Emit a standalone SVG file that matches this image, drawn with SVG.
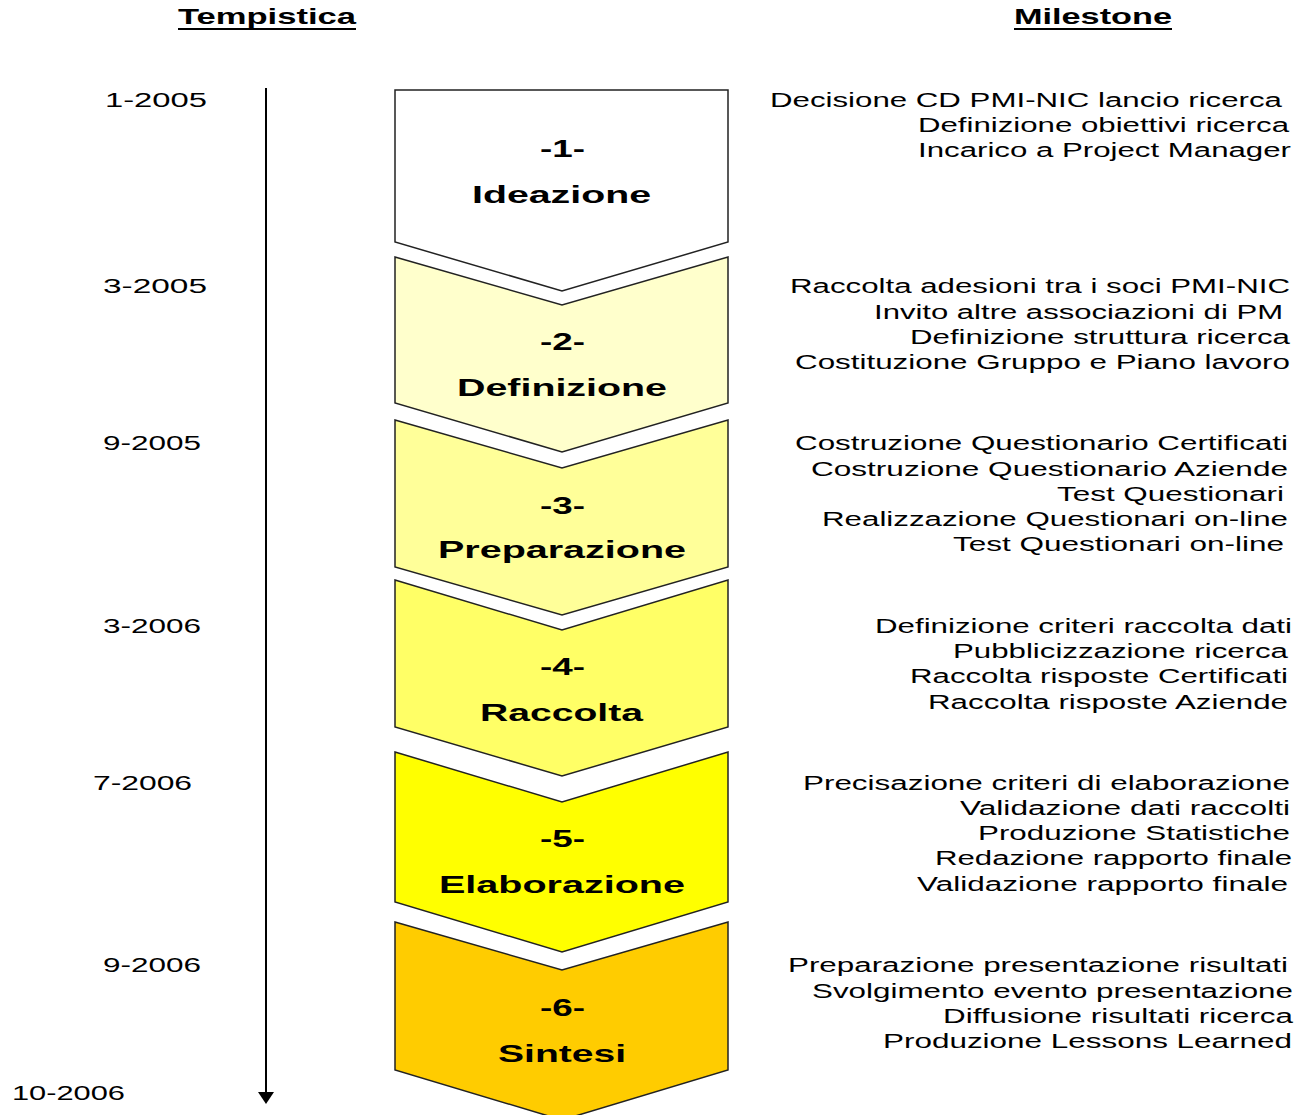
<svg xmlns="http://www.w3.org/2000/svg" width="1298" height="1115" viewBox="0 0 1298 1115">
<style>
.t{font-family:"Liberation Sans",Arial,sans-serif;font-size:20px;fill:#000}
.h{font-family:"Liberation Sans",Arial,sans-serif;font-size:22px;font-weight:bold;fill:#000}
.l{font-family:"Liberation Sans",Arial,sans-serif;font-size:24px;font-weight:bold;fill:#000}
.c{stroke:#222;stroke-width:1.5;stroke-linejoin:miter}
</style>
<rect width="1298" height="1115" fill="#fff"/>
<g id="headers">
<text class="h" x="178" y="24" textLength="178" lengthAdjust="spacingAndGlyphs">Tempistica</text>
<line x1="178" y1="29" x2="356" y2="29" stroke="#000" stroke-width="2"/>
<text class="h" x="1014" y="24" textLength="158" lengthAdjust="spacingAndGlyphs">Milestone</text>
<line x1="1014" y1="29" x2="1172" y2="29" stroke="#000" stroke-width="2"/>
</g>
<g id="connectors">
<line x1="266" y1="88" x2="266" y2="1094" stroke="#000" stroke-width="2"/>
<polygon points="258,1092 274,1092 266,1104" fill="#000"/>
</g>
<g id="dates">
<text class="t" x="105" y="107" textLength="102" lengthAdjust="spacingAndGlyphs">1-2005</text>
<text class="t" x="103" y="293" textLength="104" lengthAdjust="spacingAndGlyphs">3-2005</text>
<text class="t" x="103" y="450" textLength="98" lengthAdjust="spacingAndGlyphs">9-2005</text>
<text class="t" x="103" y="633" textLength="98" lengthAdjust="spacingAndGlyphs">3-2006</text>
<text class="t" x="93" y="790" textLength="99" lengthAdjust="spacingAndGlyphs">7-2006</text>
<text class="t" x="103" y="972" textLength="98" lengthAdjust="spacingAndGlyphs">9-2006</text>
<text class="t" x="12" y="1100" textLength="113" lengthAdjust="spacingAndGlyphs">10-2006</text>
</g>
<g id="phase1">
<polygon class="c" fill="#FFFFFF" points="395,90 728,90 728,242 562,291 395,242"/>
<text class="l" x="540" y="157" textLength="45" lengthAdjust="spacingAndGlyphs">-1-</text>
<text class="l" x="472" y="203" textLength="179" lengthAdjust="spacingAndGlyphs">Ideazione</text>
</g>
<g id="phase2">
<polygon class="c" fill="#FFFFCC" points="395,257 562,305 728,257 728,403 562,452 395,403"/>
<text class="l" x="540" y="350" textLength="45" lengthAdjust="spacingAndGlyphs">-2-</text>
<text class="l" x="457" y="396" textLength="210" lengthAdjust="spacingAndGlyphs">Definizione</text>
</g>
<g id="phase3">
<polygon class="c" fill="#FFFF99" points="395,420 562,468 728,420 728,567 562,615 395,567"/>
<text class="l" x="540" y="514" textLength="45" lengthAdjust="spacingAndGlyphs">-3-</text>
<text class="l" x="438" y="558" textLength="248" lengthAdjust="spacingAndGlyphs">Preparazione</text>
</g>
<g id="phase4">
<polygon class="c" fill="#FFFF66" points="395,580 562,630 728,580 728,727 562,776 395,727"/>
<text class="l" x="540" y="675" textLength="45" lengthAdjust="spacingAndGlyphs">-4-</text>
<text class="l" x="480" y="721" textLength="163" lengthAdjust="spacingAndGlyphs">Raccolta</text>
</g>
<g id="phase5">
<polygon class="c" fill="#FFFF00" points="395,752 562,802 728,752 728,902 562,952 395,902"/>
<text class="l" x="540" y="847" textLength="45" lengthAdjust="spacingAndGlyphs">-5-</text>
<text class="l" x="439" y="893" textLength="246" lengthAdjust="spacingAndGlyphs">Elaborazione</text>
</g>
<g id="phase6">
<polygon class="c" fill="#FFCC00" points="395,922 562,970 728,922 728,1070 562,1120 395,1070"/>
<text class="l" x="540" y="1016" textLength="45" lengthAdjust="spacingAndGlyphs">-6-</text>
<text class="l" x="498" y="1062" textLength="128" lengthAdjust="spacingAndGlyphs">Sintesi</text>
</g>
<g id="milestones1">
<text class="t" x="770" y="107" textLength="512" lengthAdjust="spacingAndGlyphs">Decisione CD PMI-NIC lancio ricerca</text>
<text class="t" x="918" y="132" textLength="371" lengthAdjust="spacingAndGlyphs">Definizione obiettivi ricerca</text>
<text class="t" x="918" y="157" textLength="373" lengthAdjust="spacingAndGlyphs">Incarico a Project Manager</text>
</g>
<g id="milestones2">
<text class="t" x="790" y="293" textLength="500" lengthAdjust="spacingAndGlyphs">Raccolta adesioni tra i soci PMI-NIC</text>
<text class="t" x="874" y="319" textLength="409" lengthAdjust="spacingAndGlyphs">Invito altre associazioni di PM</text>
<text class="t" x="910" y="344" textLength="380" lengthAdjust="spacingAndGlyphs">Definizione struttura ricerca</text>
<text class="t" x="795" y="369" textLength="495" lengthAdjust="spacingAndGlyphs">Costituzione Gruppo e Piano lavoro</text>
</g>
<g id="milestones3">
<text class="t" x="795" y="450" textLength="493" lengthAdjust="spacingAndGlyphs">Costruzione Questionario Certificati</text>
<text class="t" x="811" y="476" textLength="477" lengthAdjust="spacingAndGlyphs">Costruzione Questionario Aziende</text>
<text class="t" x="1057" y="501" textLength="227" lengthAdjust="spacingAndGlyphs">Test Questionari</text>
<text class="t" x="822" y="526" textLength="466" lengthAdjust="spacingAndGlyphs">Realizzazione Questionari on-line</text>
<text class="t" x="953" y="551" textLength="331" lengthAdjust="spacingAndGlyphs">Test Questionari on-line</text>
</g>
<g id="milestones4">
<text class="t" x="875" y="633" textLength="417" lengthAdjust="spacingAndGlyphs">Definizione criteri raccolta dati</text>
<text class="t" x="953" y="658" textLength="335" lengthAdjust="spacingAndGlyphs">Pubblicizzazione ricerca</text>
<text class="t" x="910" y="683" textLength="378" lengthAdjust="spacingAndGlyphs">Raccolta risposte Certificati</text>
<text class="t" x="928" y="709" textLength="360" lengthAdjust="spacingAndGlyphs">Raccolta risposte Aziende</text>
</g>
<g id="milestones5">
<text class="t" x="803" y="790" textLength="487" lengthAdjust="spacingAndGlyphs">Precisazione criteri di elaborazione</text>
<text class="t" x="960" y="815" textLength="330" lengthAdjust="spacingAndGlyphs">Validazione dati raccolti</text>
<text class="t" x="978" y="840" textLength="312" lengthAdjust="spacingAndGlyphs">Produzione Statistiche</text>
<text class="t" x="935" y="865" textLength="357" lengthAdjust="spacingAndGlyphs">Redazione rapporto finale</text>
<text class="t" x="917" y="891" textLength="371" lengthAdjust="spacingAndGlyphs">Validazione rapporto finale</text>
</g>
<g id="milestones6">
<text class="t" x="788" y="972" textLength="500" lengthAdjust="spacingAndGlyphs">Preparazione presentazione risultati</text>
<text class="t" x="812" y="998" textLength="481" lengthAdjust="spacingAndGlyphs">Svolgimento evento presentazione</text>
<text class="t" x="943" y="1023" textLength="350" lengthAdjust="spacingAndGlyphs">Diffusione risultati ricerca</text>
<text class="t" x="883" y="1048" textLength="409" lengthAdjust="spacingAndGlyphs">Produzione Lessons Learned</text>
</g>
</svg>
